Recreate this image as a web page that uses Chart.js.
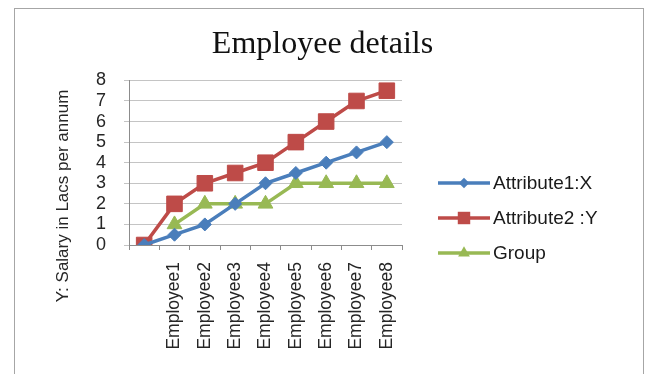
<!DOCTYPE html>
<html>
<head>
<meta charset="utf-8">
<script src="https://cdn.jsdelivr.net/npm/chart.js@4.4.0/dist/chart.umd.min.js"></script>
<style>
html, body { margin: 0; padding: 0; background: #ffffff; }
#wrap { width: 645px; height: 374px; position: relative; }
canvas { display: block; }
</style>
</head>
<body>
<div id="wrap"><canvas id="c" width="645" height="374"></canvas></div>
<script>
// ---- data ----
const categories = ['', 'Employee1', 'Employee2', 'Employee3', 'Employee4', 'Employee5', 'Employee6', 'Employee7', 'Employee8'];
const attribute1X = [0, 0.5, 1, 2, 3, 3.5, 4, 4.5, 5];
const attribute2Y = [0, 2, 3, 3.5, 4, 5, 6, 7, 7.5];
const group = [null, 1, 2, 2, 2, 3, 3, 3, 3];
const yTicks = [0, 1, 2, 3, 4, 5, 6, 7, 8];
const seriesNames = ['Attribute1:X', 'Attribute2 :Y', 'Group'];
const chartTitle = 'Employee details';
const yAxisTitle = 'Y: Salary in Lacs per annum';

// ---- styles ----
const colors = ['#4a7ebb', '#be4b48', '#98b954'];
const pointStyles = ['rectRot', 'rect', 'triangle'];
const pointRadii = [6.5, 11, 8.5];
const sansFont = "'Liberation Sans', Arial, sans-serif";

function drawMarker(ctx, style, x, y, r, color) {
  ctx.save();
  ctx.fillStyle = color;
  ctx.beginPath();
  if (style === 'rectRot') {
    ctx.moveTo(x, y - r); ctx.lineTo(x + r, y); ctx.lineTo(x, y + r); ctx.lineTo(x - r, y);
  } else if (style === 'rect') {
    const s = Math.SQRT1_2 * r;
    ctx.rect(x - s, y - s, 2 * s, 2 * s);
  } else {
    ctx.moveTo(x, y - r);
    ctx.lineTo(x + Math.sin(2 * Math.PI / 3) * r, y - Math.cos(2 * Math.PI / 3) * r);
    ctx.lineTo(x + Math.sin(4 * Math.PI / 3) * r, y - Math.cos(4 * Math.PI / 3) * r);
  }
  ctx.closePath();
  ctx.fill();
  ctx.restore();
}

const decor = {
  id: 'decor',
  beforeDraw(chart) {
    const ctx = chart.ctx;
    ctx.save();
    ctx.fillStyle = '#ffffff';
    ctx.fillRect(0, 0, chart.width, chart.height);
    ctx.strokeStyle = '#a6a6a6';
    ctx.lineWidth = 1;
    ctx.strokeRect(14.5, 8.5, 629, 420);
    ctx.restore();
  },
  afterDraw(chart) {
    const ctx = chart.ctx;
    // y axis title
    ctx.save();
    ctx.translate(63, 196);
    ctx.rotate(-Math.PI / 2);
    ctx.fillStyle = '#262626';
    ctx.font = "17px " + sansFont;
    ctx.textAlign = 'center';
    ctx.textBaseline = 'middle';
    ctx.fillText(yAxisTitle, 0, 0);
    ctx.restore();
    // legend
    chart.data.datasets.forEach((ds, i) => {
      const y = 183 + 35 * i;
      ctx.save();
      ctx.strokeStyle = ds.borderColor;
      ctx.lineWidth = 3.5;
      ctx.beginPath();
      ctx.moveTo(438, y);
      ctx.lineTo(490, y);
      ctx.stroke();
      ctx.restore();
      drawMarker(ctx, pointStyles[i], 464, y, pointRadii[i] * 0.8, ds.borderColor);
      ctx.save();
      ctx.fillStyle = '#1a1a1a';
      ctx.font = "19px " + sansFont;
      ctx.textAlign = 'left';
      ctx.textBaseline = 'middle';
      ctx.fillText(ds.label, 493, y + 1);
      ctx.restore();
    });
  }
};

const datasetsValues = [attribute1X, attribute2Y, group];

new Chart(document.getElementById('c'), {
  type: 'line',
  data: {
    labels: categories,
    datasets: datasetsValues.map((vals, i) => ({
      label: seriesNames[i],
      data: vals,
      yAxisID: 'y',
      borderColor: colors[i],
      backgroundColor: colors[i],
      pointBackgroundColor: colors[i],
      pointBorderColor: colors[i],
      borderWidth: 3.5,
      pointStyle: pointStyles[i],
      pointRadius: pointRadii[i],
      pointBorderWidth: 1,
      tension: 0,
      spanGaps: false,
      fill: false
    }))
  },
  options: {
    responsive: false,
    animation: false,
    devicePixelRatio: 1,
    layout: { padding: { left: 0, right: 0, top: 0, bottom: 0 } },
    plugins: {
      legend: { display: false },
      tooltip: { enabled: false },
      title: {
        display: true,
        text: chartTitle,
        color: '#111111',
        font: { family: "'Liberation Serif', 'Times New Roman', serif", size: 32, weight: 'normal' },
        padding: { top: 25, bottom: 17 }
      }
    },
    scales: {
      x: {
        type: 'category',
        offset: true,
        grid: { display: true, drawOnChartArea: false, drawTicks: true, tickLength: 5, offset: true, color: '#8c8c8c' },
        border: { display: true, color: '#8c8c8c', width: 1 },
        ticks: {
          autoSkip: false, minRotation: 90, maxRotation: 90, padding: 12,
          color: '#262626', font: { family: sansFont, size: 17.5 }
        },
        afterFit(scale) { scale.height = 129; }
      },
      y: {
        min: 0, max: 8,
        position: 'left',
        afterBuildTicks(scale) { scale.ticks = yTicks.map(v => ({ value: v })); },
        grid: { color: '#c4c4c4', tickLength: 5, drawTicks: true },
        border: { display: true, color: '#8c8c8c', width: 1 },
        ticks: { autoSkip: false, padding: 18, color: '#262626', font: { family: sansFont, size: 18 } },
        afterFit(scale) { scale.width = 129; }
      },
      legendSpace: {
        type: 'linear',
        position: 'right',
        display: true,
        grid: { display: false, drawTicks: false },
        border: { display: false },
        ticks: { display: false },
        afterFit(scale) { scale.width = 243; }
      }
    }
  },
  plugins: [decor]
});
</script>
</body>
</html>
